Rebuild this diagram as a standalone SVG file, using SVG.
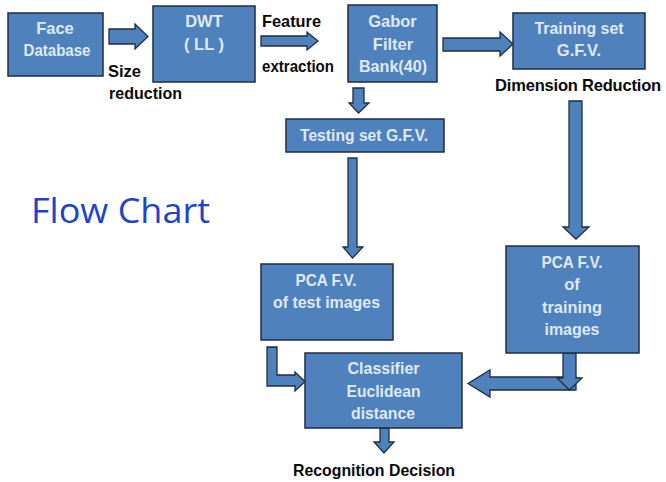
<svg xmlns="http://www.w3.org/2000/svg" width="666" height="482" viewBox="0 0 666 482">
  <style>
    .box { fill: #4f81bd; stroke: #1f2d42; stroke-width: 1.5; }
    .arrow { fill: #4f81bd; stroke: #1f2d42; stroke-width: 1.3; stroke-linejoin: miter; }
    .in { font-family: "Liberation Sans", Arial, sans-serif; font-weight: bold; font-size: 16.5px; fill: #dfe9f5; text-anchor: middle; }
    .lbl { font-family: "Liberation Sans", Arial, sans-serif; font-weight: bold; font-size: 16.5px; fill: #0a0a0a; }
    .title { font-family: "Open Sans", "Liberation Sans", sans-serif; font-size: 34px; fill: #1c44c8; }
  </style>

  <rect width="666" height="482" fill="#ffffff"/>

  <!-- block arrows between stages -->
  <g id="connectors">
    <polygon class="arrow" points="109,29 135,29 135,24 148,36.5 135,49 135,44 109,44"/>
    <polygon class="arrow" points="261,36 307,36 307,32 318,41 307,50 307,46 261,46"/>
    <polygon class="arrow" points="443,38 500,38 500,32 513,44 500,56 500,51 443,51"/>
    <polygon class="arrow" points="353,88 364,88 364,103 369,103 358.5,113 349,103 353,103"/>
    <polygon class="arrow" points="348,158 357,158 357,247 363,247 352.5,258 343,247 348,247"/>
    <polygon class="arrow" points="569,101 582,101 582,227 589,227 576,239 563,227 569,227"/>
    <polygon class="arrow" points="576,377 490,377 490,370 468,383.5 490,397 490,390 576,390"/>
    <polygon class="arrow" points="563,353 576,353 576,378 582,378 569.5,390 557,378 563,378"/>
    <polygon class="arrow" points="267,347 277,347 277,375 295,375 295,372 305,381.5 295,391 295,386 267,386"/>
    <polygon class="arrow" points="380,428 389,428 389,442 394,442 384,453 374,442 380,442"/>
  </g>

  <g id="face-database">
    <rect class="box" x="8" y="13" width="95" height="63"/>
    <text class="in" x="55" y="34">Face</text>
    <text class="in" x="57" y="56" textLength="67" lengthAdjust="spacingAndGlyphs">Database</text>
  </g>

  <g id="dwt">
    <rect class="box" x="153" y="6" width="102" height="76"/>
    <text class="in" x="204" y="27">DWT</text>
    <text class="in" x="204" y="50">( LL )</text>
  </g>

  <g id="gabor">
    <rect class="box" x="348" y="5" width="89" height="77"/>
    <text class="in" x="392.5" y="27">Gabor</text>
    <text class="in" x="393" y="50">Filter</text>
    <text class="in" x="393" y="72" textLength="68" lengthAdjust="spacingAndGlyphs">Bank(40)</text>
  </g>

  <g id="training-set">
    <rect class="box" x="513" y="13" width="132" height="56"/>
    <text class="in" x="579" y="34" textLength="89" lengthAdjust="spacingAndGlyphs">Training set</text>
    <text class="in" x="579" y="56">G.F.V.</text>
  </g>

  <g id="testing-set">
    <rect class="box" x="286" y="119" width="158" height="33"/>
    <text class="in" x="364" y="141" textLength="128" lengthAdjust="spacingAndGlyphs">Testing set G.F.V.</text>
  </g>

  <g id="pca-test">
    <rect class="box" x="261" y="264" width="132" height="76"/>
    <text class="in" x="326" y="286" textLength="61" lengthAdjust="spacingAndGlyphs">PCA F.V.</text>
    <text class="in" x="326.5" y="308" textLength="107" lengthAdjust="spacingAndGlyphs">of test images</text>
  </g>

  <g id="pca-train">
    <rect class="box" x="506" y="246" width="133" height="107"/>
    <text class="in" x="572" y="268" textLength="61" lengthAdjust="spacingAndGlyphs">PCA F.V.</text>
    <text class="in" x="572" y="290">of</text>
    <text class="in" x="572" y="313" textLength="60" lengthAdjust="spacingAndGlyphs">training</text>
    <text class="in" x="572" y="335" textLength="55" lengthAdjust="spacingAndGlyphs">images</text>
  </g>

  <g id="classifier">
    <rect class="box" x="305" y="353" width="157" height="75"/>
    <text class="in" x="383.5" y="374" textLength="72" lengthAdjust="spacingAndGlyphs">Classifier</text>
    <text class="in" x="383.5" y="397" textLength="74" lengthAdjust="spacingAndGlyphs">Euclidean</text>
    <text class="in" x="383" y="419" textLength="64" lengthAdjust="spacingAndGlyphs">distance</text>
  </g>

  <g id="labels">
    <text class="lbl" x="108" y="77">Size</text>
    <text class="lbl" x="109" y="99" textLength="73" lengthAdjust="spacingAndGlyphs">reduction</text>
    <text class="lbl" x="262" y="27" textLength="59" lengthAdjust="spacingAndGlyphs">Feature</text>
    <text class="lbl" x="262" y="72" textLength="72" lengthAdjust="spacingAndGlyphs">extraction</text>
    <text class="lbl" x="578" y="91" font-size="14" text-anchor="middle" letter-spacing="-0.2">Dimension Reduction</text>
    <text class="lbl" x="293" y="476" textLength="162" lengthAdjust="spacingAndGlyphs">Recognition Decision</text>
    <text class="title" x="31" y="223" textLength="179" lengthAdjust="spacingAndGlyphs">Flow Chart</text>
  </g>
</svg>
